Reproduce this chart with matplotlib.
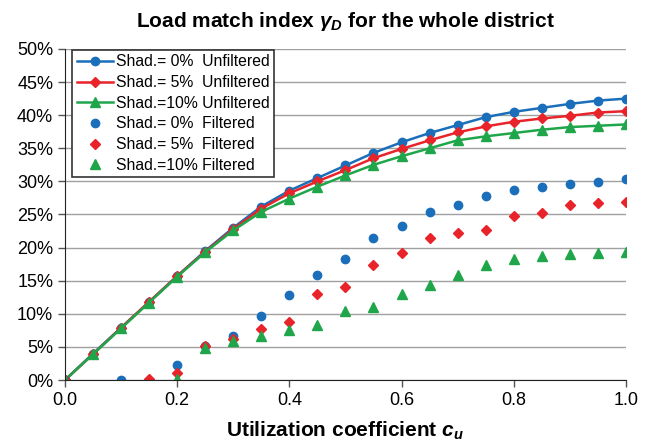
import numpy as np
import matplotlib.pyplot as plt

plt.rcParams['font.family'] = ['Liberation Sans', 'DejaVu Sans']
plt.rcParams['mathtext.fontset'] = 'custom'
plt.rcParams['mathtext.it'] = 'Liberation Sans:italic:bold'
plt.rcParams['mathtext.rm'] = 'Liberation Sans:bold'

# utilization coefficient steps
cu = [0.0, 0.05, 0.1, 0.15, 0.2, 0.25, 0.3, 0.35, 0.4, 0.45, 0.5,
      0.55, 0.6, 0.65, 0.7, 0.75, 0.8, 0.85, 0.9, 0.95, 1.0]

# load match index in % (unfiltered)
unf_0 = [0.0, 4.0, 7.9, 11.8, 15.7, 19.5, 23.0, 26.2, 28.6, 30.5, 32.4,
         34.3, 35.9, 37.3, 38.5, 39.7, 40.5, 41.1, 41.7, 42.2, 42.5]
unf_5 = [0.0, 3.9, 7.9, 11.8, 15.7, 19.4, 22.8, 25.9, 28.2, 30.0, 31.7,
         33.5, 34.9, 36.2, 37.4, 38.3, 39.0, 39.5, 39.9, 40.4, 40.6]
unf_10 = [0.0, 3.9, 7.8, 11.7, 15.6, 19.3, 22.6, 25.4, 27.4, 29.2, 30.9,
          32.5, 33.8, 35.0, 36.2, 36.8, 37.3, 37.8, 38.2, 38.4, 38.6]

# filtered (NaN = not plotted)
nan = np.nan
fil_0 = [0.0, nan, 0.0, nan, 2.2, 5.2, 6.7, 9.6, 12.9, 15.9, 18.3,
         21.5, 23.3, 25.4, 26.4, 27.8, 28.7, 29.2, 29.6, 29.9, 30.3]
fil_5 = [0.0, nan, nan, 0.1, 1.0, 5.1, 6.2, 7.7, 8.7, 13.0, 14.0,
         17.3, 19.2, 21.4, 22.2, 22.7, 24.8, 25.2, 26.4, 26.7, 26.9]
fil_10 = [0.0, nan, nan, nan, 0.2, 4.8, 5.9, 6.6, 7.6, 8.3, 10.4,
          11.0, 13.0, 14.3, 15.9, 17.3, 18.3, 18.7, 19.0, 19.2, 19.4]

blue = '#1b6fba'
red = '#e8232a'
green = '#20a64a'

fig = plt.figure(figsize=(6.53, 4.45), dpi=100)
ax = fig.add_axes([0.0995, 0.146, 0.859, 0.744])

ax.plot(cu, unf_0, '-o', color=blue, lw=1.8, ms=6, label='Shad.= 0%  Unfiltered')
ax.plot(cu, unf_5, '-D', color=red, lw=1.8, ms=5.5, label='Shad.= 5%  Unfiltered')
ax.plot(cu, unf_10, '-^', color=green, lw=1.8, ms=7, label='Shad.=10% Unfiltered')
ax.plot(cu, fil_0, 'o', color=blue, ms=6, label='Shad.= 0%  Filtered')
ax.plot(cu, fil_5, 'D', color=red, ms=5.5, label='Shad.= 5%  Filtered')
ax.plot(cu, fil_10, '^', color=green, ms=7, label='Shad.=10% Filtered')

ax.set_xlim(0, 1.0)
ax.set_ylim(0, 50)
ax.set_xticks([0, 0.2, 0.4, 0.6, 0.8, 1.0])
ax.set_xticklabels(['0.0', '0.2', '0.4', '0.6', '0.8', '1.0'])
ax.set_yticks(range(0, 51, 5))
ax.set_yticklabels([f'{v}%' for v in range(0, 51, 5)])
ax.tick_params(labelsize=13, direction='out', length=5, width=1, color='#555555')
ax.grid(axis='y', color='#a0a0a0', lw=1)
ax.set_axisbelow(True)
for s in ['top', 'right']:
    ax.spines[s].set_visible(False)
for s in ['left', 'bottom']:
    ax.spines[s].set_color('#222222')

ax.set_title(r'Load match index $\gamma_D$ for the whole district',
             fontsize=15, fontweight='bold', pad=16)
ax.set_xlabel(r'Utilization coefficient $c_u$', fontsize=15, fontweight='bold', labelpad=8)

leg = ax.legend(loc='upper left', bbox_to_anchor=(0.004, 1.012), fontsize=11.3,
                frameon=True, fancybox=False, edgecolor='#333333', framealpha=1,
                handlelength=2.3, borderpad=0.3, labelspacing=0.36, handletextpad=0.2,
                borderaxespad=0.3)
leg.get_frame().set_linewidth(1.2)

fig.savefig('out.png', dpi=100)
